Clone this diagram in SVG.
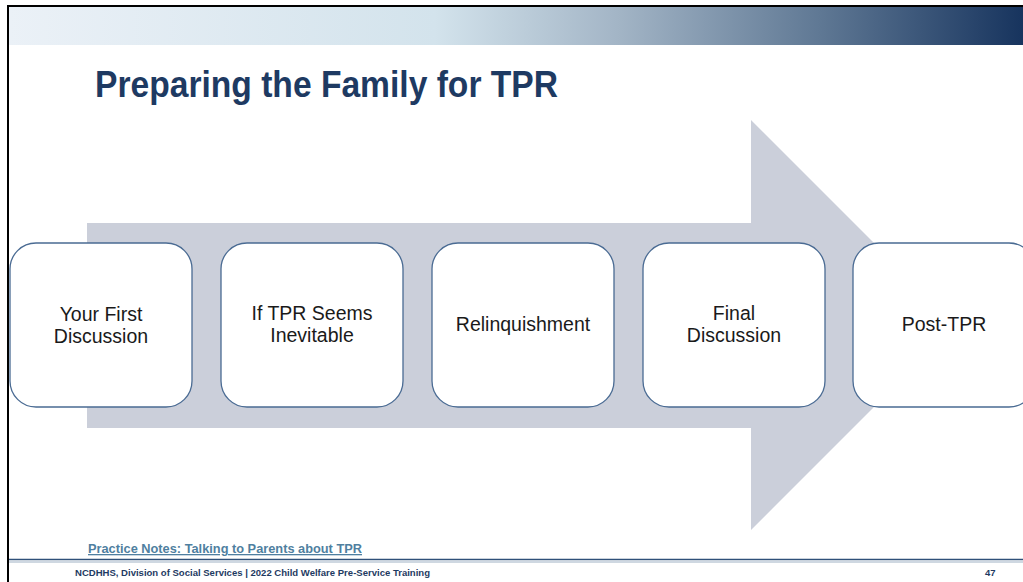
<svg xmlns="http://www.w3.org/2000/svg" width="1023" height="582" viewBox="0 0 1023 582">
<defs>
<linearGradient id="band" x1="0" y1="0" x2="1" y2="0">
<stop offset="0" stop-color="#ebf1f7"/>
<stop offset="0.42" stop-color="#d3e3ec"/>
<stop offset="0.6" stop-color="#a3b5c6"/>
<stop offset="0.8" stop-color="#5f7894"/>
<stop offset="1" stop-color="#17345e"/>
</linearGradient>
<linearGradient id="bandfade" x1="0" y1="0" x2="0" y2="1">
<stop offset="0" stop-color="#ffffff" stop-opacity="0"/>
<stop offset="1" stop-color="#ffffff" stop-opacity="0"/>
</linearGradient>
</defs>
<style>
.box{fill:#ffffff;stroke:#4a6b93;stroke-width:1.3}
.lbl{font-family:"Liberation Sans",Arial,sans-serif;font-size:19.5px;fill:#1a1a1a;text-anchor:middle}
</style>
<rect x="0" y="0" width="1023" height="582" fill="#ffffff"/>
<rect x="9" y="7" width="1014" height="38" fill="url(#band)"/>
<line x1="8" y1="6" x2="1023" y2="6" stroke="#000" stroke-width="2"/>
<line x1="8" y1="5" x2="8" y2="582" stroke="#000" stroke-width="2"/>
<text x="95" y="97" font-family="'Liberation Sans',Arial,sans-serif" font-size="36" font-weight="bold" fill="#1e3a62" textLength="463" lengthAdjust="spacingAndGlyphs">Preparing the Family for TPR</text>
<g id="arrow">
<polygon points="87,223 751,223 751,120 956,325 751,530 751,428 87,428" fill="#cbcfda"/>
</g>
<g id="connectors"></g>
<g id="n1">
<rect class="box" x="10" y="243" width="182" height="164" rx="26"/>
<text class="lbl" x="101" y="321">Your First</text>
<text class="lbl" x="101" y="343">Discussion</text>
</g>
<g id="n2">
<rect class="box" x="221" y="243" width="182" height="164" rx="26"/>
<text class="lbl" x="312" y="320">If TPR Seems</text>
<text class="lbl" x="312" y="342">Inevitable</text>
</g>
<g id="n3">
<rect class="box" x="432" y="243" width="182" height="164" rx="26"/>
<text class="lbl" x="523" y="331">Relinquishment</text>
</g>
<g id="n4">
<rect class="box" x="643" y="243" width="182" height="164" rx="26"/>
<text class="lbl" x="734" y="320">Final</text>
<text class="lbl" x="734" y="342">Discussion</text>
</g>
<g id="n5">
<rect class="box" x="853" y="243" width="182" height="164" rx="26"/>
<text class="lbl" x="944" y="331">Post-TPR</text>
</g>
<text x="88" y="553" font-family="'Liberation Sans',Arial,sans-serif" font-size="13" font-weight="bold" fill="#4f7fa0" text-decoration="underline" textLength="274" lengthAdjust="spacingAndGlyphs">Practice Notes: Talking to Parents about TPR</text>
<line x1="9" y1="559.5" x2="1023" y2="559.5" stroke="#2f5079" stroke-width="1.6"/>
<line x1="9" y1="562" x2="1023" y2="562" stroke="#9fb1c4" stroke-width="1"/>
<text x="75" y="576" font-family="'Liberation Sans',Arial,sans-serif" font-size="9.5" font-weight="bold" fill="#1e3a62" textLength="355" lengthAdjust="spacingAndGlyphs">NCDHHS, Division of Social  Services | 2022 Child Welfare Pre-Service Training</text>
<text x="985" y="576" font-family="'Liberation Sans',Arial,sans-serif" font-size="9.5" font-weight="bold" fill="#1e3a62">47</text>
</svg>
